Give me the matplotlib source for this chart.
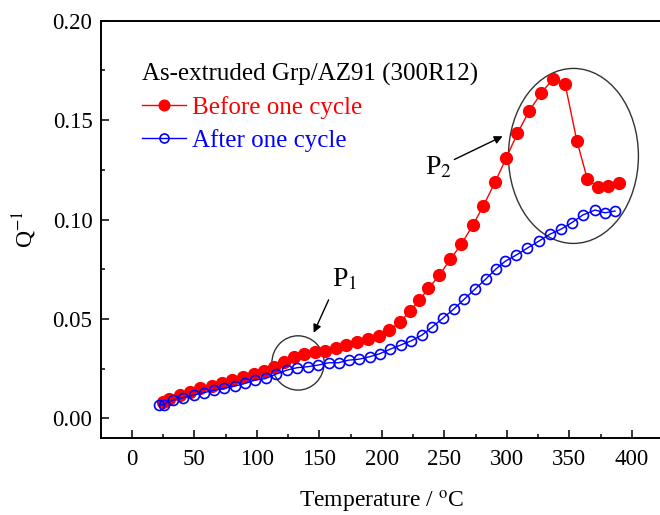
import matplotlib.pyplot as plt
from matplotlib.patches import Ellipse

# Internal friction data
temp_before = [25.0, 29.3, 38.6, 46.6, 54.6, 64.0, 72.0, 80.0, 88.8, 97.3, 105.3, 113.3,
               121.3, 129.3, 137.8, 146.6, 154.6, 163.4, 171.4, 180.0, 188.5, 197.3,
               206.0, 214.6, 222.6, 230.0, 237.3, 246.0, 254.7, 263.5, 272.8, 281.3,
               290.7, 299.4, 308.5, 318.0, 327.7, 336.8, 346.6, 356.0, 364.5, 373.0,
               381.3, 389.8]
q_before = [0.0085, 0.0096, 0.0117, 0.0134, 0.0151, 0.0162, 0.0176, 0.0193, 0.0206, 0.0223,
            0.0239, 0.0260, 0.0285, 0.0307, 0.0323, 0.0332, 0.0338, 0.0355, 0.0369, 0.0382,
            0.0400, 0.0415, 0.0445, 0.0484, 0.0541, 0.0595, 0.0654, 0.0720, 0.0800, 0.0875,
            0.0972, 0.1070, 0.1190, 0.1308, 0.1434, 0.1547, 0.1638, 0.1705, 0.1682, 0.1397,
            0.1202, 0.1165, 0.1168, 0.1185]

temp_after = [21.3, 25.3, 32.8, 40.8, 49.3, 57.3, 65.8, 73.8, 82.1, 90.6, 98.6, 107.2,
              115.4, 124.0, 132.0, 140.5, 148.8, 157.3, 165.3, 173.3, 181.8, 190.1, 198.1,
              206.6, 215.0, 223.4, 232.0, 240.5, 249.0, 257.5, 266.0, 274.5, 283.0, 291.0,
              298.6, 307.4, 316.0, 326.0, 334.6, 343.2, 351.9, 360.8, 370.6, 378.6, 386.6]
q_after = [0.0067, 0.0070, 0.0092, 0.0104, 0.0117, 0.0129, 0.0142, 0.0151, 0.0162, 0.0176,
           0.0193, 0.0201, 0.0223, 0.0243, 0.0255, 0.0260, 0.0268, 0.0280, 0.0280, 0.0293,
           0.0298, 0.0310, 0.0325, 0.0348, 0.0369, 0.0390, 0.0419, 0.0461, 0.0505, 0.0550,
           0.0600, 0.0650, 0.0700, 0.0750, 0.0790, 0.0821, 0.0855, 0.0893, 0.0927, 0.0951,
           0.0984, 0.1023, 0.1048, 0.1034, 0.1043]

plt.rcParams['font.family'] = ['Liberation Serif', 'DejaVu Serif']
plt.rcParams['mathtext.fontset'] = 'stix'

fig = plt.figure(figsize=(6.6, 5.15), dpi=100)
# axes run past the right edge, like the cropped original
ax = fig.add_axes([0.1526, 0.1489, 0.852, 0.8109])

ax.plot(temp_before, q_before, '-o', color='red', lw=1.0, ms=8.5,
        mfc='red', mec='red', label='Before one cycle')
ax.plot(temp_after, q_after, '-o', color='blue', lw=1.0, ms=7.2,
        mfc='none', mec='blue', mew=1.2, label='After one cycle')

ax.set_xlim(-25, 425)
ax.set_ylim(-0.01, 0.20)
ax.set_xticks(range(0, 401, 50))
ax.set_xticks(range(-25, 426, 25), minor=True)
ax.set_yticks([0.00, 0.05, 0.10, 0.15, 0.20])
ax.set_yticks([0.025, 0.075, 0.125, 0.175], minor=True)
ax.yaxis.set_major_formatter(plt.FormatStrFormatter('%.2f'))
ax.tick_params(which='both', direction='in', top=False, right=False, labelsize=16.5, width=1.1)
ax.tick_params(which='major', length=6)
ax.tick_params(which='minor', length=3)
ax.tick_params(axis='x', pad=8)
ax.tick_params(axis='y', pad=6)
for s in ax.spines.values():
    s.set_linewidth(1.4)

ax.set_xlabel(r'Temperature / $^{\mathrm{o}}$C', fontsize=17, labelpad=13)
ax.set_ylabel(r'Q$^{\mathrm{-1}}$', fontsize=17, labelpad=10)

# circled regions and their labels
ax.add_patch(Ellipse((132.9, 0.0279), 41.8, 0.0273, fill=False, ec='#333333', lw=1.0))
ax.add_patch(Ellipse((353.3, 0.1320), 104, 0.0880, fill=False, ec='#333333', lw=1.0))
ax.annotate('', xy=(144.5, 0.0418), xytext=(158.3, 0.0609),
            arrowprops=dict(arrowstyle='-|>', color='black', lw=1.0, mutation_scale=12))
ax.annotate('', xy=(298.6, 0.1425), xytext=(256.0, 0.1296),
            arrowprops=dict(arrowstyle='-|>', color='black', lw=1.0, mutation_scale=12))
ax.text(159.7, 0.0696, r'P$_{\mathrm{1}}$', fontsize=20, va='center', ha='left')
ax.text(234.6, 0.1259, r'P$_{\mathrm{2}}$', fontsize=20, va='center', ha='left')

leg = ax.legend(loc='upper left', bbox_to_anchor=(0.073, 0.90), frameon=False,
                title='As-extruded Grp/AZ91 (300R12)', title_fontsize=18, fontsize=18,
                alignment='left', labelcolor='linecolor', borderpad=0, borderaxespad=0,
                handlelength=1.76, handletextpad=0.24, labelspacing=0.4, markerscale=0.9)

plt.savefig('out.png', dpi=100)
